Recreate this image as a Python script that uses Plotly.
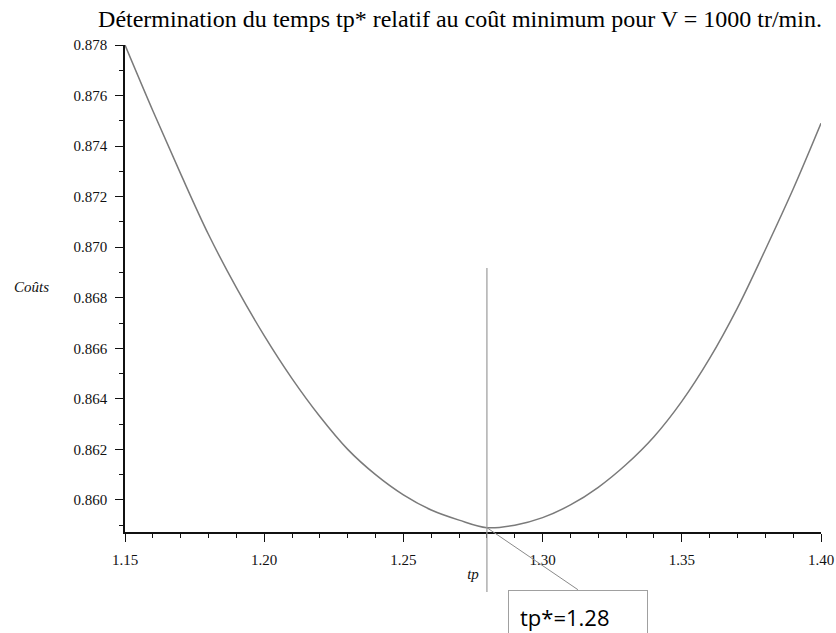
import plotly.graph_objects as go

# Coût en fonction du temps tp (V = 1000 tr/min)
tp_values = [1.15, 1.16, 1.17, 1.18, 1.19, 1.20, 1.21, 1.22, 1.23, 1.24, 1.25, 1.26, 1.27,
             1.28, 1.29, 1.30, 1.31, 1.32, 1.33, 1.34, 1.35, 1.36, 1.37, 1.38, 1.39, 1.40]
cost_values = [0.8780, 0.8754, 0.8729, 0.8705, 0.8684, 0.8665, 0.8648, 0.8633, 0.8620,
               0.8610, 0.8602, 0.8596, 0.8592, 0.8589, 0.8590, 0.8593, 0.8598, 0.8605,
               0.8614, 0.8625, 0.8639, 0.8656, 0.8676, 0.8699, 0.8723, 0.8749]

tp_star = 1.28
cost_min = min(cost_values)

x_ticks = [1.15, 1.20, 1.25, 1.30, 1.35, 1.40]
x_ticklabels = ["1.15", "1.20", "1.25", "1.30", "1.35", "1.40"]
y_ticks = [0.860, 0.862, 0.864, 0.866, 0.868, 0.870, 0.872, 0.874, 0.876, 0.878]
y_ticklabels = ["0.860", "0.862", "0.864", "0.866", "0.868", "0.870", "0.872", "0.874",
                "0.876", "0.878"]

serif = "Liberation Serif, Times New Roman, serif"

fig = go.Figure()
fig.add_trace(go.Scatter(
    x=tp_values, y=cost_values, mode="lines",
    line=dict(color="#7a7a7a", width=1.5, shape="spline"),
    hoverinfo="skip", showlegend=False,
))

# droite verticale en tp*
fig.add_shape(type="line", xref="x", yref="paper",
              x0=tp_star, x1=tp_star, y0=-0.123, y1=0.542,
              line=dict(color="#9a9a9a", width=1.2))

# étiquette de tp* reliée au minimum
fig.add_annotation(
    x=tp_star, y=cost_min, xref="x", yref="y",
    text="tp*=1.28", showarrow=True, arrowhead=0, arrowwidth=1, arrowcolor="#8a8a8a",
    ax=91, ay=62, xanchor="center", yanchor="top",
    width=116, height=60, align="left", valign="top", borderpad=11,
    bordercolor="#a0a0a0", borderwidth=1, bgcolor="white",
    font=dict(family="Open Sans, sans-serif", size=22, color="#000"),
)

# titre de l'axe des coûts
fig.add_annotation(
    x=-0.134, y=0.503, xref="paper", yref="paper", text="<i>Coûts</i>", showarrow=False,
    xanchor="center", yanchor="middle",
    font=dict(family=serif, size=15, color="#111"),
)

fig.update_layout(
    width=836, height=633,
    margin=dict(l=125, r=15, t=45, b=101),
    paper_bgcolor="white", plot_bgcolor="white",
    title=dict(
        text="Détermination du temps tp* relatif au coût minimum pour V = 1000 tr/min.",
        x=460 / 836, xanchor="center", xref="container",
        y=1 - 19 / 633, yanchor="middle", yref="container",
        font=dict(family=serif, size=24, color="#000"),
    ),
)

fig.update_xaxes(
    range=[1.15, 1.40], tickvals=x_ticks, ticktext=x_ticklabels, automargin=False,
    showgrid=False, zeroline=False, showline=True, linecolor="#111", linewidth=1.5,
    ticks="outside", ticklen=8, tickwidth=1, tickcolor="#111", ticklabelstandoff=5,
    minor=dict(dtick=0.01, ticks="outside", ticklen=4, tickcolor="#111", showgrid=False),
    tickfont=dict(family=serif, size=15, color="#111"),
    title=dict(text="<i>tp</i>", font=dict(family=serif, size=15, color="#111"), standoff=2),
)
fig.update_yaxes(
    range=[0.85873, 0.878], tickvals=y_ticks, ticktext=y_ticklabels, automargin=False,
    showgrid=False, zeroline=False, showline=True, linecolor="#111", linewidth=1.5,
    ticks="outside", ticklen=8, tickwidth=1, tickcolor="#111", ticklabelstandoff=5,
    minor=dict(dtick=0.001, ticks="outside", ticklen=4, tickcolor="#111", showgrid=False),
    tickfont=dict(family=serif, size=15, color="#111"),
)

fig.write_html("out.html")
